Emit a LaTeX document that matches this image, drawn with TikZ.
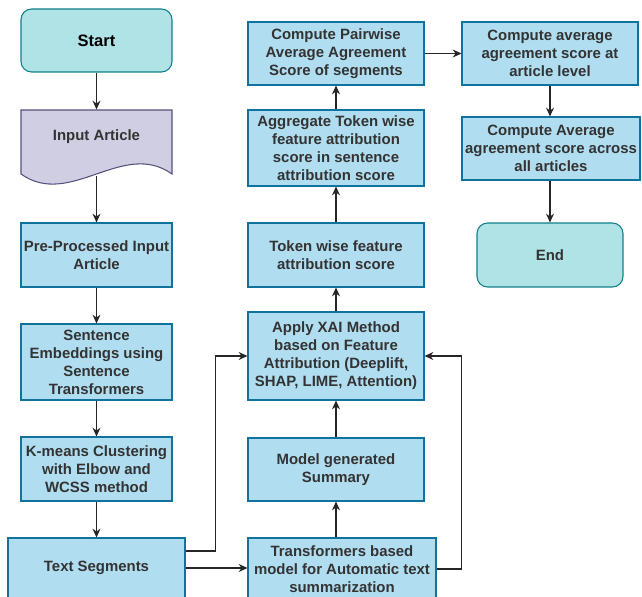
\documentclass[tikz,border=0pt]{standalone}
\usepackage{fontspec}
\setmainfont{Liberation Sans}
\usepackage{xcolor}
\usepackage{tikz}
\usetikzlibrary{arrows.meta,positioning,calc}
\definecolor{boxfill}{HTML}{B1DDF0}
\definecolor{boxline}{HTML}{10739E}
\definecolor{termfill}{HTML}{B0E3E6}
\definecolor{termline}{HTML}{0E8088}
\definecolor{docfill}{HTML}{D0CEE2}
\definecolor{docline}{HTML}{56517E}
\definecolor{txt}{HTML}{333333}

\begin{document}
\begin{tikzpicture}[x=0.02cm,y=-0.02cm,
	box/.style={draw=boxline,fill=boxfill,line width=0.6pt,inner sep=1pt,align=center,text=txt,font=\fontsize{8.5}{10.2}\selectfont\bfseries},
	term/.style={box,draw=termline,fill=termfill,rounded corners=6pt},
	arr/.style={-{Stealth[length=5pt,width=4.5pt]},line width=0.7pt,draw=black!85}]
		\useasboundingbox (0,0) rectangle (642,597);
		\clip (0,0) rectangle (642,597);
		\node[term,minimum width=3.02cm,minimum height=1.26cm,text=black,font=\fontsize{9.4}{11}\selectfont\bfseries] (start) at (96.5,40.5) {Start};
		\draw[draw=docline,fill=docfill,line width=0.6pt] (21,110) -- (172,110) -- (172,174) .. controls (123,139) and (70,209) .. (21,174) -- cycle;
		\node[box,draw=none,fill=none,minimum width=3.02cm,minimum height=1.08cm] (input) at (96.5,137) {Input Article};
		\coordinate (inwave) at (96.5,176);
		\node[box,minimum width=3.02cm,minimum height=1.28cm] (pre) at (96.5,255) {Pre-Processed Input\\Article};
		\node[box,minimum width=3.02cm,minimum height=1.52cm] (emb) at (96.5,362) {Sentence\\Embeddings using\\Sentence\\Transformers};
		\node[box,minimum width=3.02cm,minimum height=1.28cm] (kmeans) at (96.5,469) {K-means Clustering\\with Elbow and\\WCSS method};
		\node[box,minimum width=3.54cm,minimum height=1.2cm] (seg) at (96.5,568) {Text Segments};
		\node[box,minimum width=3.76cm,minimum height=1.24cm] (trans) at (342,569) {Transformers based\\model for Automatic text\\summarization};
		\node[box,minimum width=3.52cm,minimum height=1.26cm] (model) at (336,469.5) {Model generated\\Summary};
		\node[box,minimum width=3.52cm,minimum height=1.76cm] (xai) at (336,356) {Apply XAI Method\\based on Feature\\Attribution (Deeplift,\\SHAP, LIME, Attention)};
		\node[box,minimum width=3.52cm,minimum height=1.28cm] (token) at (336,255) {Token wise feature\\attribution score};
		\node[box,minimum width=3.52cm,minimum height=1.52cm] (aggr) at (336,148) {Aggregate Token wise\\feature attribution\\score in sentence\\attribution score};
		\node[box,minimum width=3.52cm,minimum height=1.26cm] (pairwise) at (336,53.5) {Compute Pairwise\\Average Agreement\\Score of segments};
		\node[box,minimum width=3.52cm,minimum height=1.26cm] (avgart) at (550,53.5) {Compute average\\agreement score at\\article level};
		\node[box,minimum width=3.56cm,minimum height=1.26cm] (avgall) at (551,148.5) {Compute Average\\agreement score across\\all articles};
		\node[term,minimum width=2.92cm,minimum height=1.28cm] (endn) at (550,255) {End};
		\draw[arr] (start) -- (input.north);
		\draw[arr] (inwave) -- (pre);
		\draw[arr] (pre) -- (emb);
		\draw[arr] (emb) -- (kmeans);
		\draw[arr] (kmeans) -- (seg);
		\draw[arr] ([yshift=0.34cm]seg.east) -- ++(30,0) |- (xai.west);
		\draw[arr] (seg.east) -- (seg.east -| trans.west);
		\draw[arr] (trans.east) -- ++(25,0) |- (xai.east);
		\draw[arr] (trans.north -| model) -- (model);
		\draw[arr] (model) -- (xai);
		\draw[arr] (xai) -- (token);
		\draw[arr] (token) -- (aggr);
		\draw[arr] (aggr) -- (pairwise);
		\draw[arr] (pairwise) -- (avgart);
		\draw[arr] (avgart.south) -- (avgart.south |- avgall.north);
		\draw[arr] (avgall.south -| endn) -- (endn);
	\end{tikzpicture}
\end{document}
